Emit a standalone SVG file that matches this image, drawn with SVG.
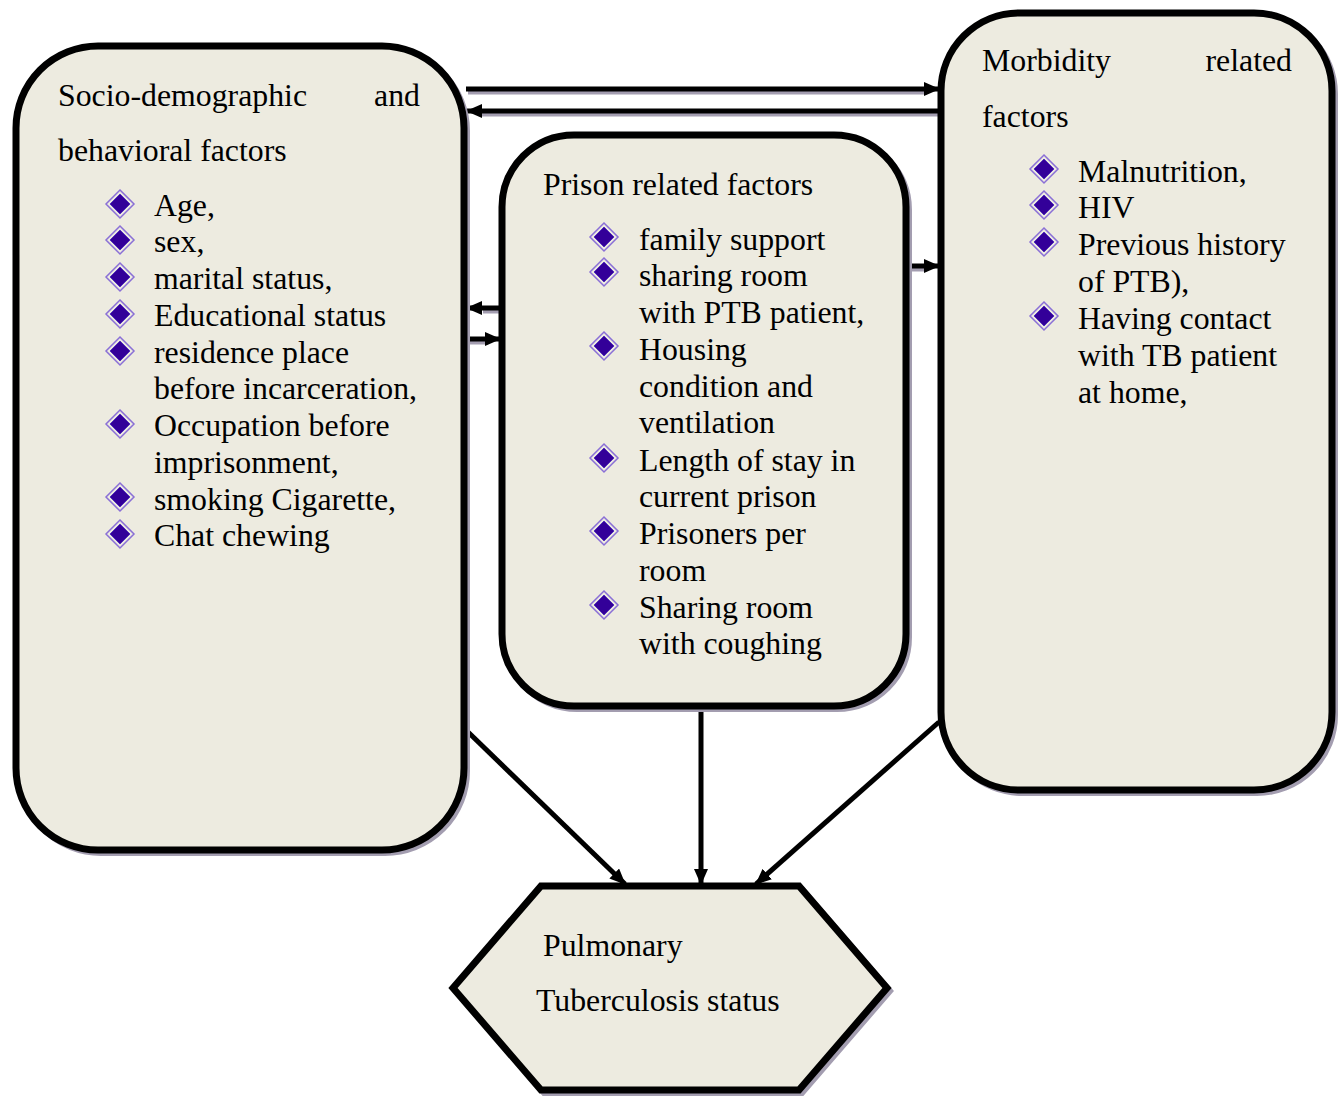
<svg xmlns="http://www.w3.org/2000/svg" width="1341" height="1096" viewBox="0 0 1341 1096">
<defs>
<style>
.box{fill:#edebe0;stroke:#000;stroke-width:7}
.sh{fill:none;stroke:#a39db0;stroke-width:6}
.t{font-family:"Liberation Serif","Times New Roman",serif;font-size:31.8px;fill:#000}
.c{stroke:#000;stroke-width:5;fill:none}
.cs{stroke:#a39db0;stroke-width:5;fill:none}
</style>
<marker id="ah" markerUnits="userSpaceOnUse" markerWidth="16" markerHeight="14" refX="15" refY="7" orient="auto">
<path d="M0,0 L16,7 L0,14 Z" fill="#000"/>
</marker>
<g id="bul">
<path d="M0,-14 L14,0 L0,14 L-14,0 Z" fill="none" stroke="#8a6fd6" stroke-width="1.5"/>
<path d="M0,-10 L10,0 L0,10 L-10,0 Z" fill="#330099" stroke="#5533bb" stroke-width="1"/>
</g>
</defs>

<g id="connectors">
<g transform="translate(2,3)">
<line class="cs" x1="466" y1="89" x2="925" y2="89"/>
<line class="cs" x1="939" y1="111" x2="480" y2="111"/>
<line class="cs" x1="908" y1="266" x2="925" y2="266"/>
<line class="cs" x1="500" y1="308" x2="481" y2="308"/>
<line class="cs" x1="466" y1="339" x2="486" y2="339"/>
</g>
<line class="c" x1="466" y1="89" x2="939" y2="89" marker-end="url(#ah)"/>
<line class="c" x1="939" y1="111" x2="467" y2="111" marker-end="url(#ah)"/>
<line class="c" x1="908" y1="266" x2="939" y2="266" marker-end="url(#ah)"/>
<line class="c" x1="500" y1="308" x2="467" y2="308" marker-end="url(#ah)"/>
<line class="c" x1="466" y1="339" x2="500" y2="339" marker-end="url(#ah)"/>
<line class="c" x1="468" y1="732" x2="625" y2="884" marker-end="url(#ah)"/>
<line class="c" x1="701" y1="708" x2="701" y2="884" marker-end="url(#ah)"/>
<line class="c" x1="939" y1="722" x2="756" y2="884" marker-end="url(#ah)"/>
</g>

<g id="socio">
<rect class="sh" x="19" y="49" width="448" height="804" rx="82"/>
<rect class="box" x="16" y="46" width="448" height="804" rx="82"/>
<text class="t" x="58" y="106">Socio-demographic</text>
<text class="t" x="420" y="106" text-anchor="end">and</text>
<text class="t" x="58" y="161">behavioral factors</text>
<use href="#bul" x="120" y="204"/>
<use href="#bul" x="120" y="240"/>
<use href="#bul" x="120" y="277"/>
<use href="#bul" x="120" y="314"/>
<use href="#bul" x="120" y="351"/>
<use href="#bul" x="120" y="424"/>
<use href="#bul" x="120" y="497"/>
<use href="#bul" x="120" y="534"/>
<text class="t" x="154" y="216">Age,</text>
<text class="t" x="154" y="252">sex,</text>
<text class="t" x="154" y="289">marital status,</text>
<text class="t" x="154" y="326">Educational status</text>
<text class="t" x="154" y="363">residence place</text>
<text class="t" x="154" y="399">before incarceration,</text>
<text class="t" x="154" y="436">Occupation before</text>
<text class="t" x="154" y="473">imprisonment,</text>
<text class="t" x="154" y="510">smoking Cigarette,</text>
<text class="t" x="154" y="546">Chat chewing</text>
</g>

<g id="prison">
<rect class="sh" x="505" y="138" width="404" height="571" rx="72"/>
<rect class="box" x="502" y="135" width="404" height="571" rx="72"/>
<text class="t" x="543" y="195">Prison related factors</text>
<use href="#bul" x="604" y="237"/>
<use href="#bul" x="604" y="272"/>
<use href="#bul" x="604" y="346"/>
<use href="#bul" x="604" y="458"/>
<use href="#bul" x="604" y="531"/>
<use href="#bul" x="604" y="605"/>
<text class="t" x="639" y="250">family support</text>
<text class="t" x="639" y="286">sharing room</text>
<text class="t" x="639" y="323">with PTB patient,</text>
<text class="t" x="639" y="360">Housing</text>
<text class="t" x="639" y="397">condition and</text>
<text class="t" x="639" y="433">ventilation</text>
<text class="t" x="639" y="471">Length of stay in</text>
<text class="t" x="639" y="507">current prison</text>
<text class="t" x="639" y="544">Prisoners per</text>
<text class="t" x="639" y="581">room</text>
<text class="t" x="639" y="618">Sharing room</text>
<text class="t" x="639" y="654">with coughing</text>
</g>

<g id="morbidity">
<rect class="sh" x="944" y="16" width="391" height="777" rx="78"/>
<rect class="box" x="941" y="13" width="391" height="777" rx="78"/>
<text class="t" x="982" y="71">Morbidity</text>
<text class="t" x="1292" y="71" text-anchor="end">related</text>
<text class="t" x="982" y="127">factors</text>
<use href="#bul" x="1044" y="169"/>
<use href="#bul" x="1044" y="205"/>
<use href="#bul" x="1044" y="242"/>
<use href="#bul" x="1044" y="316"/>
<text class="t" x="1078" y="182">Malnutrition,</text>
<text class="t" x="1078" y="218">HIV</text>
<text class="t" x="1078" y="255">Previous history</text>
<text class="t" x="1078" y="292">of PTB),</text>
<text class="t" x="1078" y="329">Having contact</text>
<text class="t" x="1078" y="366">with TB patient</text>
<text class="t" x="1078" y="403">at home,</text>
</g>

<g id="ptb">
<polygon class="sh" points="544,889 802,889 890,991 802,1093 544,1093 456,991"/>
<polygon class="box" points="541,886 799,886 887,988 799,1090 541,1090 453,988"/>
<text class="t" x="543" y="956">Pulmonary</text>
<text class="t" x="536" y="1011">Tuberculosis status</text>
</g>
</svg>
